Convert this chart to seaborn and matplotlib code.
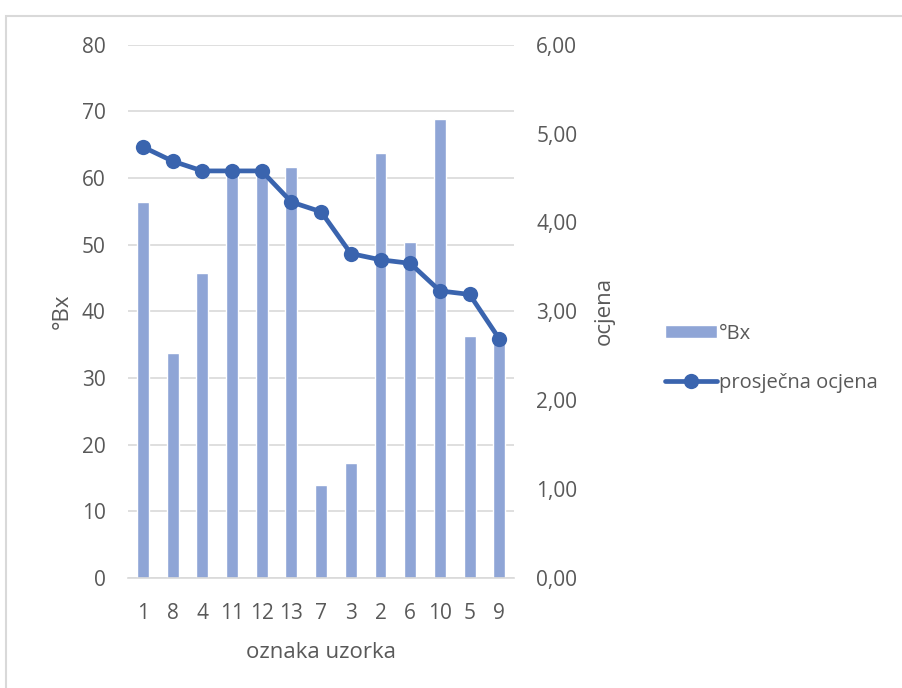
import numpy as np
import pandas as pd
import matplotlib.pyplot as plt
import seaborn as sns
from matplotlib.ticker import FuncFormatter, MultipleLocator
from matplotlib.patches import Rectangle

uzorci = ["1", "8", "4", "11", "12", "13", "7", "3", "2", "6", "10", "5", "9"]
bx = [56.4, 33.8, 45.8, 61.2, 61.0, 61.7, 13.9, 17.2, 63.7, 50.4, 68.8, 36.3, 35.6]
ocjena = [4.85, 4.69, 4.58, 4.58, 4.58, 4.23, 4.12, 3.65, 3.58, 3.54, 3.23, 3.19, 2.69]

df = pd.DataFrame({"uzorak": uzorci, "bx": bx, "ocjena": ocjena})

sns.set_style("white")
plt.rcParams["font.family"] = ["Open Sans", "DejaVu Sans"]
txt = "#595959"
bar_c = "#8FA5D6"
line_c = "#3A64AE"

fig = plt.figure(figsize=(9.02, 6.88), dpi=100)
ax = fig.add_axes([0.142, 0.160, 0.428, 0.775])

sns.barplot(data=df, x="uzorak", y="bx", order=uzorci, color=bar_c,
            saturation=1, width=0.4, ax=ax, label="°Bx", zorder=2)
if ax.get_legend() is not None:
    ax.get_legend().remove()
ax.set_ylim(0, 80)
ax.yaxis.set_major_locator(MultipleLocator(10))
ax.grid(axis="y", color="#D9D9D9", linewidth=1.2, zorder=0)
ax.set_axisbelow(True)
for s in ["top", "left", "right"]:
    ax.spines[s].set_visible(False)
ax.spines["bottom"].set_color("#D9D9D9")
ax.spines["bottom"].set_linewidth(1.2)
ax.set_xlim(-0.5, len(uzorci) - 0.5)
ax.set_xticks(np.arange(-0.5, len(uzorci)), minor=True)
ax.tick_params(axis="x", which="minor", length=5, color="#D9D9D9", width=1.2)
ax.tick_params(axis="x", which="major", length=0, pad=18)
ax.tick_params(axis="both", labelsize=15, labelcolor=txt)
ax.tick_params(axis="y", length=0, pad=16)
ax.set_xlabel("oznaka uzorka", fontsize=16, color=txt, labelpad=13)
ax.set_ylabel("°Bx", fontsize=16, color=txt, labelpad=7)

ax2 = ax.twinx()
sns.lineplot(x=np.arange(len(uzorci)), y=df["ocjena"], ax=ax2, color=line_c,
             linewidth=3.4, marker="o", markersize=11, markeredgewidth=0,
             label="prosječna ocjena", legend=False, zorder=3)
ax2.set_ylim(0, 6)
ax2.yaxis.set_major_locator(MultipleLocator(1))
ax2.yaxis.set_major_formatter(FuncFormatter(lambda v, p: f"{v:.2f}".replace(".", ",")))
for s in ax2.spines.values():
    s.set_visible(False)
ax2.tick_params(axis="y", labelsize=15, labelcolor=txt, length=0, pad=16)
ax2.set_ylabel("ocjena", fontsize=16, color=txt, labelpad=12)
ax2.set_xlim(-0.5, len(uzorci) - 0.5)

h1, l1 = ax.get_legend_handles_labels()
h2, l2 = ax2.get_legend_handles_labels()
fig.legend(h1 + h2, l1 + l2, loc="center left", bbox_to_anchor=(0.717, 0.479),
           frameon=False, fontsize=14.5, labelcolor=txt, handlelength=2.6,
           handleheight=0.65, handletextpad=0.1, labelspacing=1.45)

fig.patches.append(Rectangle((0.0067, -0.05), 1.2, 0.9767 + 0.05, transform=fig.transFigure,
                             fill=False, edgecolor="#D9D9D9", linewidth=1.5))

fig.savefig("out.png", dpi=100)
